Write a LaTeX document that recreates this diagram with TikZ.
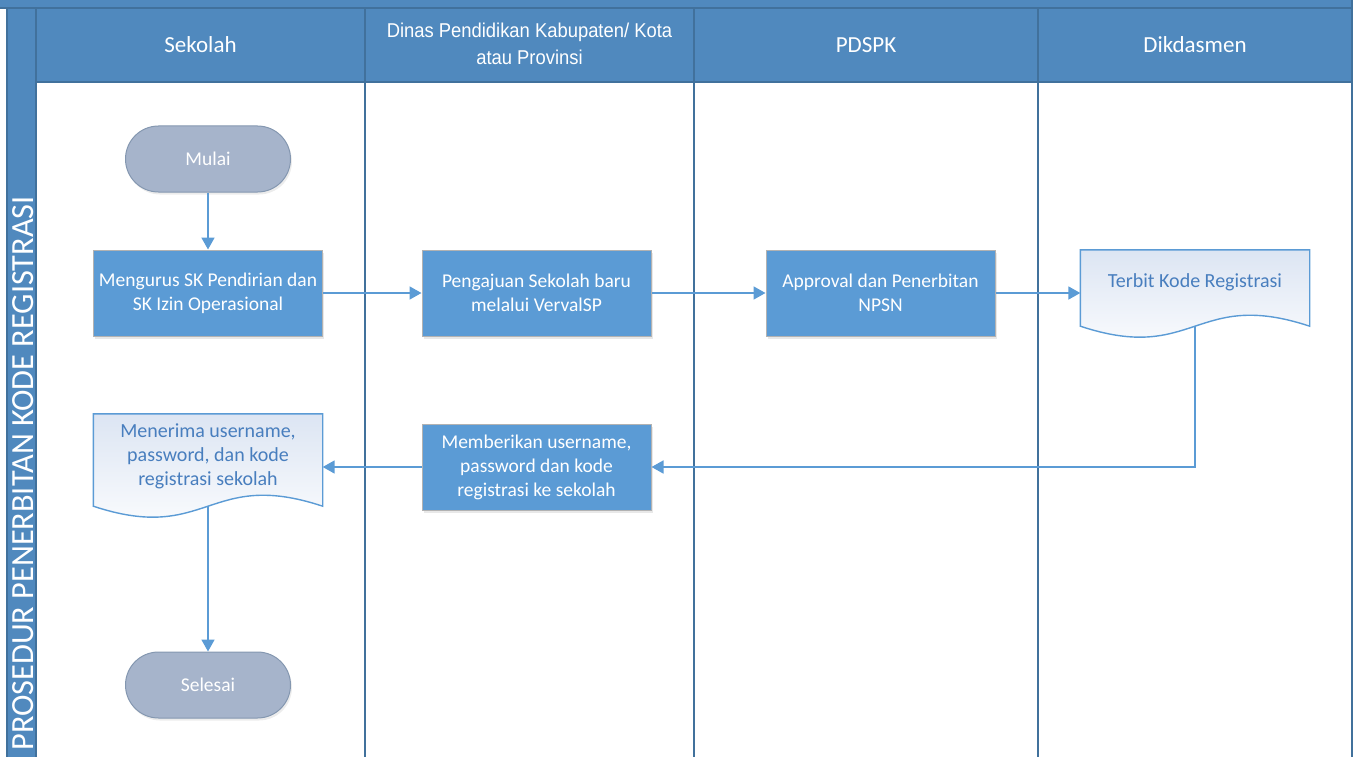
\documentclass[tikz,border=0pt]{standalone}
\usepackage{fontspec}
\setmainfont{Carlito}
\newfontfamily\hdrfont{Liberation Sans}[FakeStretch=0.92]
\usetikzlibrary{arrows.meta,calc,shadows,backgrounds}

\definecolor{hdr}{RGB}{80,137,190}
\definecolor{hdrline}{RGB}{65,113,156}
\definecolor{procfill}{RGB}{91,155,213}
\definecolor{procline}{RGB}{178,178,178}
\definecolor{termfill}{RGB}{166,180,203}
\definecolor{termline}{RGB}{132,151,176}
\definecolor{flowcol}{RGB}{91,155,213}
\definecolor{doctext}{RGB}{72,126,190}
\definecolor{docshade}{RGB}{220,229,243}

\newcommand{\docpath}[2]{%
  (#1.north west) -- (#1.north east) -- ($(#1.south east)+(0,#2)$)
  .. controls ($(#1.south)+(0,#2-38)$) and ($(#1.south)+(0,#2+38)$) ..
  ($(#1.south west)+(0,#2)$) -- cycle}

\begin{document}
\begin{tikzpicture}[x=1pt,y=-1pt,
  bodytext/.style={font=\fontsize{19.5}{24}\selectfont},
  headtext/.style={font=\fontsize{23}{27}\selectfont, text=white},
  cell/.style={fill=hdr, draw=hdrline, line width=1.3},
  laneline/.style={draw=hdrline, line width=1.6},
  proc/.style={bodytext, rectangle, minimum width=229, minimum height=86,
    inner sep=0, align=center, fill=procfill, draw=procline, line width=1,
    text=white,
    drop shadow={shadow xshift=1.5pt, shadow yshift=-2.5pt, opacity=0.18, fill=black!50}},
  term/.style={bodytext, rectangle, rounded corners=33, minimum width=165,
    minimum height=66, inner sep=0, fill=termfill, draw=termline, line width=1,
    text=white,
    drop shadow={shadow xshift=1.5pt, shadow yshift=-2.5pt, opacity=0.15, fill=black!50}},
  doc/.style={font=\fontsize{20}{24}\selectfont, rectangle, minimum width=229, inner sep=0,
    align=center, text=doctext},
  docbody/.style={draw=flowcol, line width=1.4, top color=docshade, bottom color=white},
  flow/.style={draw=flowcol, line width=1.8, -{Triangle[length=12,width=13]}},
]
\useasboundingbox (0,0) rectangle (1359,757);
\clip (0,0) rectangle (1359,757);

% pool title strip and lane headers
\fill[hdr] (0,0) rectangle (1352,8);
\draw[hdrline, line width=1.3] (0,8) -- (1352,8);
\draw[cell] (7,8) rectangle (36,770);
\draw[cell] (36,8) rectangle (365,82);
\draw[cell] (365,8) rectangle (694,82);
\draw[cell] (694,8) rectangle (1038,82);
\draw[cell] (1038,8) rectangle (1352,82);

\node[headtext] (h1) at (200.5,45) {Sekolah};
\node[text=white, align=center, font=\hdrfont\fontsize{20}{27}\selectfont] (h2) at (529.5,44)
  {Dinas Pendidikan Kabupaten/ Kota\\atau Provinsi};
\node[headtext] (h3) at (866,45) {PDSPK};
\node[headtext] (h4) at (1195,45) {Dikdasmen};

\node[rotate=90, anchor=base east, text=white, inner sep=0,
  font=\fontsize{32.3}{33}\selectfont] (pool) at (33,196)
  {PROSEDUR PENERBITAN KODE REGISTRASI};

% lane separators
\draw[laneline] (365,82) -- (365,757);
\draw[laneline] (694,82) -- (694,757);
\draw[laneline] (1038,82) -- (1038,757);
\draw[laneline] (1352,0) -- (1352,757);

% flow steps
\node[term] (mulai) at (208,159) {Mulai};
\node[proc] (urus) at (208,293) {Mengurus SK Pendirian dan\\SK Izin Operasional};
\node[proc] (aju) at (536.5,293) {Pengajuan Sekolah baru\\melalui VervalSP};
\node[proc] (npsn) at (880.5,293) {Approval dan Penerbitan\\NPSN};
\node[doc, minimum height=64] (kode) at (1195,282) {Terbit Kode Registrasi};
\node[proc] (beri) at (536.5,467) {Memberikan username,\\password dan kode\\registrasi ke sekolah};
\node[doc, minimum height=84] (terima) at (208,456) {Menerima username,\\password, dan kode\\registrasi sekolah};
\node[term] (selesai) at (208,685) {Selesai};

% document outlines with wavy bottom edge
\begin{pgfonlayer}{background}
  \path[docbody] \docpath{kode}{12};
  \path[docbody] \docpath{terima}{8};
\end{pgfonlayer}

\coordinate (kodeout) at ($(kode.south)+(0,12)$);
\coordinate (terimaout) at ($(terima.south)+(0,8)$);

% connectors
\draw[flow] (mulai) -- (urus);
\draw[flow] (urus) -- (aju);
\draw[flow] (aju) -- (npsn);
\draw[flow] (npsn.east) -- (npsn.east -| kode.west);
\draw[flow] (kodeout) |- (beri.east);
\draw[flow] (beri.west) -- (beri.west -| terima.east);
\draw[flow] (terimaout) -- (selesai);
\end{tikzpicture}
\end{document}
